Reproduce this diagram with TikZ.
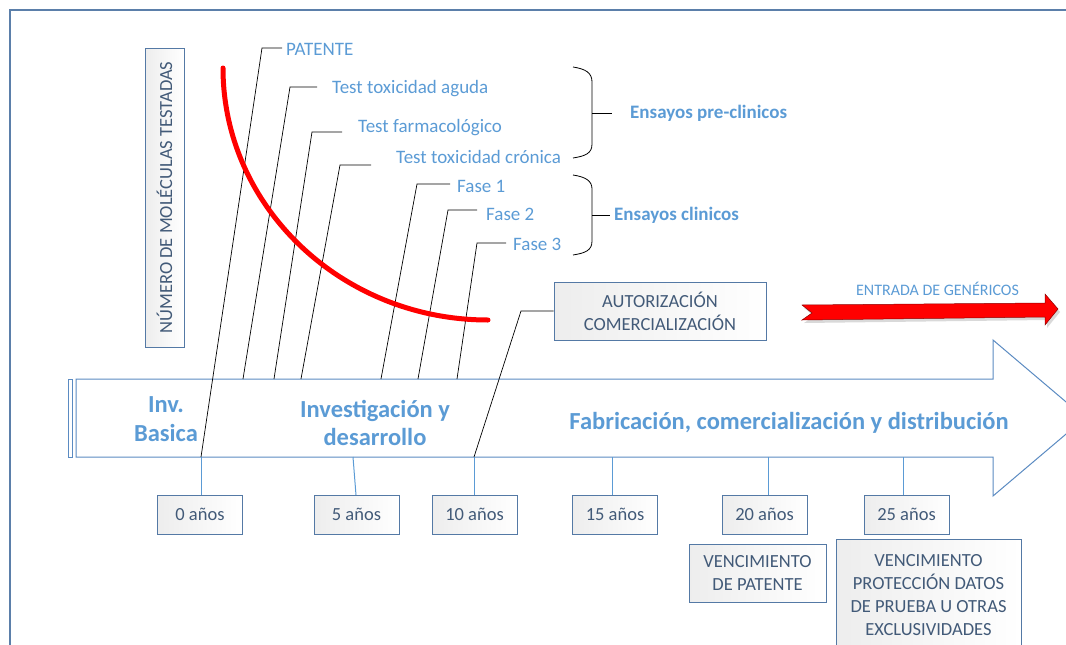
\documentclass[tikz,border=0pt]{standalone}
\usepackage{fontspec}
\setmainfont{Carlito}
\definecolor{lblue}{HTML}{5B9BD5}
\definecolor{boxtext}{HTML}{425A78}
\definecolor{boxline}{HTML}{5479A5}
\definecolor{arrline}{HTML}{5B8BC2}
\definecolor{frameline}{HTML}{5B7FAA}
\definecolor{redline}{HTML}{FF0000}
\begin{document}
\begin{tikzpicture}[x=1pt,y=-1pt,
  lbl/.style={text=lblue, font=\fontsize{19}{22}\selectfont, inner sep=0pt, anchor=west},
  big/.style={text=lblue, font=\fontsize{24.5}{28.5}\selectfont\bfseries, align=center, inner sep=0pt},
  bracelbl/.style={text=lblue, font=\fontsize{19}{22}\selectfont\bfseries, inner sep=0pt, anchor=west},
  infobox/.style={draw=boxline, line width=0.9pt, left color=black!7, right color=white,
    text=boxtext, font=\fontsize{18.5}{23}\selectfont, align=center, inner sep=0pt},
  yearbox/.style={infobox, minimum width=85pt, minimum height=39pt},
  leader/.style={draw=black, line width=0.7pt},
  tickline/.style={draw=lblue, line width=1pt},
  bracepath/.style={draw=black, line width=0.8pt},
]
\useasboundingbox (0,0) rectangle (1066,645);
\clip (0,0) rectangle (1066,645);

% outer frame
\draw[frameline, line width=1.2pt] (10,645) -- (10,10) -- (1066,10);

% main time arrow
\draw[arrline, line width=1pt, fill=white] (76,379) -- (993,379) -- (993,340) -- (1085,418)
  -- (993,496) -- (993,457) -- (76,457) -- cycle;
\draw[arrline, line width=1pt] (68,379) rectangle (72,457);

% phases inside the arrow
\node[big] (inv) at (166,419) {Inv.\\Basica};
\node[big] (idi) at (375,423) {Investigación y\\desarrollo};
\node[big] (fab) at (789,423) {Fabricación, comercialización y distribución};

% year boxes
\node[yearbox] (y0)  at (200,514.5)   {0 años};
\node[yearbox] (y5)  at (356.5,514.5) {5 años};
\node[yearbox] (y10) at (474.5,514.5) {10 años};
\node[yearbox] (y15) at (615,514.5)   {15 años};
\node[yearbox] (y20) at (764.5,514.5) {20 años};
\node[yearbox] (y25) at (906.5,514.5) {25 años};

% anchor points on the arrow's lower edge
\coordinate (f0)  at (201,457);
\coordinate (f5)  at (353,457);
\coordinate (f10) at (474,457);
\coordinate (f15) at (612,457);
\coordinate (f20) at (768,457);
\coordinate (f25) at (903,457);

\draw[tickline] (f0)  -- (f0 |- y0.north);
\draw[tickline] (f5)  -- (356,495);
\draw[tickline] (f10) -- (f10 |- y10.north);
\draw[tickline] (f15) -- (f15 |- y15.north);
\draw[tickline] (f20) -- (f20 |- y20.north);
\draw[tickline] (f25) -- (f25 |- y25.north);

% expiry boxes
\node[infobox, minimum width=137pt, minimum height=58pt] (venpat) at (757.5,573)
  {VENCIMIENTO\\DE PATENTE};
\node[infobox, minimum width=185pt, minimum height=112pt] (vendat) at (928.5,595)
  {VENCIMIENTO\\PROTECCIÓN DATOS\\DE PRUEBA U OTRAS\\EXCLUSIVIDADES};

% vertical axis box
\node[infobox, rotate=90, minimum width=299pt, minimum height=39pt] (mol) at (164.5,197.5)
  {NÚMERO DE MOLÉCULAS TESTADAS};

% marketing authorisation
\node[infobox, minimum width=212pt, minimum height=58pt] (aut) at (660,311)
  {AUTORIZACIÓN\\COMERCIALIZACIÓN};
\coordinate (autk) at (521,311);
\draw[leader] (f10) -- (autk) -- (aut.west);

% milestone labels
\node[lbl] (pat) at (286,49)  {PATENTE};
\node[lbl] (tta) at (332,89)  {Test toxicidad aguda};
\node[lbl] (tfa) at (358,128) {Test farmacológico};
\node[lbl] (ttc) at (396,157) {Test toxicidad crónica};
\node[lbl] (fa1) at (457,186) {Fase 1};
\node[lbl] (fa2) at (486,214) {Fase 2};
\node[lbl] (fa3) at (513,244) {Fase 3};

% leader knees and feet
\coordinate (kpat) at (262,48);  \coordinate (epat) at (282,48);
\coordinate (ktta) at (290,87);  \coordinate (etta) at (317,87);  \coordinate (btta) at (243,379);
\coordinate (ktfa) at (312,132); \coordinate (etfa) at (342,132); \coordinate (btfa) at (274,379);
\coordinate (kttc) at (340,165); \coordinate (ettc) at (371,165); \coordinate (bttc) at (301,379);
\coordinate (kfa1) at (417,184); \coordinate (efa1) at (450,184); \coordinate (bfa1) at (381,379);
\coordinate (kfa2) at (448,210); \coordinate (efa2) at (477,210); \coordinate (bfa2) at (418,379);
\coordinate (kfa3) at (477,243); \coordinate (efa3) at (506,243); \coordinate (bfa3) at (457,379);

\draw[leader] (epat) -- (kpat) -- (f0);
\draw[leader] (etta) -- (ktta) -- (btta);
\draw[leader] (etfa) -- (ktfa) -- (btfa);
\draw[leader] (ettc) -- (kttc) -- (bttc);
\draw[leader] (efa1) -- (kfa1) -- (bfa1);
\draw[leader] (efa2) -- (kfa2) -- (bfa2);
\draw[leader] (efa3) -- (kfa3) -- (bfa3);

% braces
\draw[bracepath] (573,67) .. controls (586,69) and (592,73) .. (592,82) -- (592,144)
  .. controls (592,153) and (586,156) .. (573,158);
\draw[bracepath] (592,113) -- (612,113);
\node[bracelbl] (pre) at (630,113) {Ensayos pre-clinicos};

\draw[bracepath] (573,175) .. controls (586,177) and (592,181) .. (592,189) -- (592,241)
  .. controls (592,250) and (586,253) .. (573,255);
\draw[bracepath] (592,215) -- (610,215);
\node[bracelbl] (cli) at (614,215) {Ensayos clinicos};

% attrition curve
\draw[redline, line width=5pt, line cap=round] (223,68) .. controls (223,207) and (342,320) .. (488,320);

% generics entry arrow
\node[text=lblue, font=\fontsize{16}{19}\selectfont, inner sep=0pt] (gen) at (937.5,289) {ENTRADA DE GENÉRICOS};
\fill[black, opacity=0.15] (804,308) -- (1047,306) -- (1047,297) -- (1060,312) -- (1047,328)
  -- (1047,320) -- (804,323) -- (814,316) -- cycle;
\draw[fill=red, draw=red!55!black, line width=0.5pt] (802,305) -- (1045,303) -- (1045,294) -- (1058,309)
  -- (1045,325) -- (1045,317) -- (802,320) -- (812,313) -- cycle;
\end{tikzpicture}
\end{document}
